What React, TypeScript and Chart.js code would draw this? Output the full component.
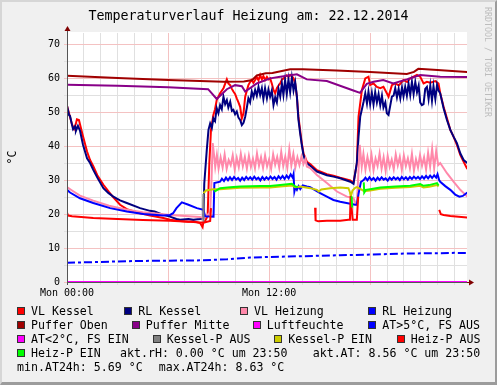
import React, { useEffect, useRef } from 'react';
import { Chart, registerables } from 'chart.js';
Chart.register(...registerables);

type P = [number, number | null];

// time in hours since Mon 00:00, value in °C
const vlKessel: P[] = [
  [0, 52.0], [0.12, 49.8], [0.3, 46.5], [0.42, 45.2], [0.53, 46.8], [0.59, 48.0], [0.71, 47.8], [0.8, 46.0],
  [0.95, 43.0], [1.19, 38.5], [1.37, 36.0], [1.56, 34.2], [1.8, 31.5], [2.16, 28.7], [2.5, 26.5], [2.75, 25.0],
  [3.15, 22.8], [3.55, 21.5], [4.34, 20.3], [4.93, 19.6], [5.72, 18.9], [6.12, 18.4], [6.71, 18.0], [7.21, 17.8],
  [7.5, 17.9], [7.9, 17.4], [8.05, 16.2], [8.1, 17.8], [8.2, 18.0], [8.35, 19.5], [8.45, 35.0], [8.55, 45.0],
  [8.69, 49.3], [8.79, 51.0], [8.89, 53.7], [9.09, 55.7], [9.29, 57.2], [9.49, 59.8], [9.58, 58.6], [9.69, 58.1],
  [9.79, 57.0], [9.88, 56.2], [9.98, 55.5], [10.08, 54.2], [10.18, 53.0], [10.28, 51.7], [10.38, 48.3], [10.48, 49.8],
  [10.58, 54.7], [10.68, 56.5], [10.77, 58.1], [10.87, 59.0], [10.97, 59.6], [11.07, 58.8], [11.17, 59.6], [11.27, 60.5],
  [11.37, 59.5], [11.47, 61.1], [11.57, 59.8], [11.66, 60.8], [11.76, 59.6], [11.87, 60.5], [11.96, 59.8], [12.06, 60.1],
  [12.16, 58.6], [12.26, 56.7], [12.36, 55.7], [12.46, 57.2], [12.56, 58.0], [12.66, 58.6], [12.76, 59.8], [12.85, 60.0],
  [12.95, 60.6], [13.05, 61.0], [13.15, 60.5], [13.25, 61.1], [13.35, 60.7], [13.45, 60.1], [13.55, 58.6], [13.65, 54.7],
  [13.74, 48.8], [13.84, 44.9], [13.94, 41.0], [14.04, 38.0], [14.24, 35.5], [14.44, 34.8], [14.84, 33.0], [15.43, 31.8],
  [15.82, 31.4], [16.22, 30.8], [16.82, 30.0], [17.01, 29.3], [17.21, 35.0], [17.31, 48.8], [17.51, 56.7], [17.71, 60.1],
  [17.9, 60.6], [18.0, 58.1], [18.2, 58.6], [18.4, 57.6], [18.6, 57.2], [18.79, 57.6], [18.99, 55.7], [19.09, 54.7],
  [19.29, 58.1], [19.49, 58.6], [19.7, 58.0], [19.98, 59.6], [20.2, 59.0], [20.38, 60.1], [20.58, 60.6], [20.78, 61.1],
  [20.97, 60.6], [21.17, 58.6], [21.37, 59.1], [21.57, 58.8], [21.87, 59.3], [22.06, 58.6], [22.16, 55.7], [22.36, 51.7],
  [22.56, 48.3], [22.76, 44.9], [22.95, 42.9], [23.15, 40.5], [23.35, 37.5], [23.55, 35.5], [23.77, 33.3],
];

const rlKessel: P[] = [
  [0, 52.0], [0.12, 49.3], [0.18, 49.0], [0.3, 46.3], [0.36, 45.1], [0.48, 45.9], [0.53, 44.6], [0.65, 46.1],
  [0.77, 44.7], [0.95, 40.5], [1.19, 36.5], [1.37, 35.1], [1.56, 33.1], [1.8, 30.8], [2.16, 27.7], [2.45, 26.3],
  [2.75, 25.2], [3.15, 24.1], [3.55, 23.3], [4.34, 21.8], [4.93, 21.0], [5.2, 20.8], [5.72, 19.8], [6.12, 19.3],
  [6.5, 18.6], [6.71, 18.4], [7.21, 18.6], [7.5, 18.4], [7.9, 18.6], [8.1, 18.9], [8.15, 29.0], [8.3, 39.0],
  [8.4, 44.9], [8.5, 46.8], [8.6, 45.5], [8.69, 48.3], [8.79, 47.5], [8.89, 51.3], [8.99, 49.8], [9.09, 52.2],
  [9.19, 51.0], [9.29, 54.7], [9.39, 52.5], [9.49, 53.7], [9.58, 51.5], [9.69, 53.2], [9.79, 50.5], [9.88, 50.8],
  [9.98, 49.5], [10.08, 50.3], [10.18, 48.5], [10.28, 47.8], [10.38, 46.3], [10.48, 47.0], [10.58, 48.8], [10.68, 51.5],
  [10.77, 54.2], [10.87, 53.0], [10.97, 56.2], [11.07, 54.5], [11.17, 56.7], [11.27, 55.0], [11.37, 57.6], [11.47, 55.2],
  [11.57, 57.2], [11.66, 54.0], [11.76, 57.2], [11.87, 54.2], [11.96, 56.8], [12.06, 54.7], [12.16, 56.5], [12.26, 52.2],
  [12.36, 54.5], [12.46, 53.0], [12.56, 57.0], [12.66, 54.7], [12.76, 58.6], [12.85, 55.2], [12.95, 59.6], [13.05, 55.5],
  [13.15, 59.8], [13.25, 56.0], [13.35, 60.3], [13.45, 56.5], [13.55, 59.0], [13.65, 54.7], [13.74, 48.0], [13.84, 44.0],
  [13.94, 40.5], [14.04, 37.5], [14.14, 35.8], [14.24, 35.1], [14.44, 34.3], [14.84, 32.6], [15.43, 31.5], [15.82, 31.1],
  [16.22, 30.6], [16.82, 29.6], [17.01, 29.0], [17.21, 35.1], [17.31, 42.9], [17.41, 48.8], [17.51, 51.0], [17.61, 53.2],
  [17.71, 55.7], [17.81, 52.7], [17.9, 56.2], [18.0, 52.5], [18.1, 55.8], [18.2, 52.4], [18.3, 56.0], [18.4, 53.0],
  [18.5, 55.5], [18.6, 52.2], [18.7, 55.0], [18.79, 51.5], [18.9, 53.0], [18.99, 49.8], [19.09, 49.3], [19.19, 52.0],
  [19.29, 54.7], [19.39, 55.0], [19.49, 57.2], [19.59, 54.5], [19.69, 57.0], [19.79, 54.2], [19.89, 57.4], [19.98, 54.8],
  [20.08, 57.6], [20.18, 55.0], [20.28, 58.5], [20.38, 55.2], [20.48, 59.1], [20.58, 55.5], [20.68, 59.0], [20.78, 56.0],
  [20.88, 58.0], [20.97, 53.0], [21.07, 52.2], [21.17, 52.5], [21.27, 57.0], [21.37, 57.6], [21.47, 54.0], [21.57, 58.0],
  [21.67, 53.5], [21.76, 57.8], [21.87, 54.0], [21.97, 58.2], [22.06, 56.5], [22.16, 55.7], [22.36, 51.3], [22.56, 47.8],
  [22.76, 44.9], [22.95, 42.9], [23.15, 41.0], [23.35, 38.0], [23.55, 36.0], [23.77, 35.1],
];

const vlHeizung: P[] = [
  [0, 28.0], [0.3, 27.0], [0.77, 25.5], [1.56, 24.0], [2.5, 22.5], [3.55, 21.3], [4.5, 20.6], [5.72, 20.0],
  [6.12, 19.8], [7.0, 19.5], [7.9, 19.2], [8.1, 18.9], [8.3, 19.6], [8.5, 20.5], [8.58, 30.0], [8.65, 41.0],
  [8.72, 38.0], [8.8, 34.0], [8.9, 37.5], [9.0, 33.5], [9.12, 36.8], [9.24, 33.8], [9.36, 37.6], [9.48, 33.4],
  [9.6, 36.0], [9.72, 34.5], [9.84, 37.4], [9.96, 33.2], [10.08, 36.6], [10.2, 33.9], [10.32, 37.8], [10.44, 34.2],
  [10.56, 36.9], [10.68, 33.5], [10.8, 37.2], [10.92, 34.0], [11.04, 36.4], [11.16, 33.6], [11.28, 37.9], [11.4, 34.3],
  [11.52, 36.8], [11.64, 33.7], [11.76, 37.3], [11.88, 34.1], [12.0, 36.2], [12.12, 33.4], [12.24, 37.7], [12.36, 34.6],
  [12.48, 36.9], [12.6, 33.8], [12.72, 38.4], [12.84, 34.2], [12.96, 37.0], [13.08, 33.6], [13.2, 39.2], [13.32, 34.4],
  [13.44, 37.8], [13.56, 33.9], [13.68, 36.8], [13.8, 34.5], [13.92, 37.0], [14.04, 34.8], [14.16, 36.4], [14.24, 34.1],
  [14.44, 33.6], [14.84, 31.6], [15.43, 29.2], [16.03, 26.7], [16.62, 25.2], [17.01, 24.7], [17.11, 23.5], [17.21, 22.8],
  [17.28, 30.0], [17.38, 40.5], [17.5, 34.0], [17.6, 37.8], [17.72, 33.2], [17.84, 36.9], [17.96, 33.8], [18.08, 37.5],
  [18.2, 33.0], [18.32, 36.4], [18.44, 34.2], [18.56, 37.9], [18.68, 33.5], [18.8, 36.8], [18.92, 32.8], [19.04, 37.2],
  [19.16, 34.0], [19.28, 36.1], [19.4, 33.3], [19.52, 37.6], [19.64, 34.4], [19.76, 36.9], [19.88, 33.1], [20.0, 37.3],
  [20.12, 34.2], [20.24, 36.5], [20.36, 33.6], [20.48, 37.8], [20.6, 32.9], [20.72, 36.2], [20.84, 33.8], [20.96, 37.4],
  [21.08, 34.3], [21.2, 36.8], [21.32, 33.2], [21.44, 38.1], [21.56, 34.0], [21.68, 39.3], [21.8, 33.6], [21.92, 38.6],
  [22.04, 34.5], [22.16, 35.1], [22.56, 32.1], [22.95, 29.6], [23.35, 27.2], [23.77, 25.2],
];

const rlHeizung: P[] = [
  [0, 27.2], [0.18, 26.4], [0.77, 24.7], [1.56, 23.3], [2.56, 21.8], [3.55, 20.8], [4.54, 20.1], [5.72, 19.6],
  [6.12, 19.8], [6.3, 20.3], [6.5, 21.8], [6.82, 23.5], [7.21, 22.8], [7.71, 21.8], [8.1, 21.3], [8.2, 19.4],
  [8.7, 19.3], [8.75, 29.2], [9.09, 29.6], [9.2, 30.5], [9.32, 29.8], [9.44, 30.8], [9.56, 30.0], [9.68, 30.9],
  [9.8, 30.1], [9.92, 31.0], [10.04, 30.2], [10.16, 30.7], [10.28, 29.9], [10.4, 30.8], [10.52, 30.1], [10.64, 31.0],
  [10.76, 30.3], [10.88, 30.9], [11.0, 30.2], [11.12, 31.1], [11.24, 30.3], [11.36, 30.8], [11.48, 30.0], [11.6, 31.0],
  [11.72, 30.2], [11.84, 30.9], [11.96, 30.3], [12.08, 31.1], [12.2, 30.4], [12.32, 31.0], [12.44, 30.2], [12.56, 31.2],
  [12.68, 30.5], [12.8, 31.3], [12.92, 30.4], [13.04, 31.4], [13.16, 30.6], [13.28, 31.8], [13.4, 30.8], [13.45, 31.8],
  [13.5, 26.7], [13.56, 27.9], [13.65, 27.2], [13.75, 28.3], [13.85, 27.4], [14.0, 28.5], [14.24, 28.2], [14.44, 28.0],
  [14.63, 27.4], [15.03, 26.2], [15.43, 25.2], [15.82, 24.2], [16.22, 23.7], [16.82, 23.1], [17.11, 22.8], [17.21, 22.8],
  [17.31, 26.0], [17.45, 29.5], [17.61, 30.1], [17.72, 30.8], [17.84, 30.0], [17.96, 30.9], [18.08, 30.1], [18.2, 30.7],
  [18.32, 29.9], [18.44, 30.8], [18.56, 30.1], [18.68, 30.9], [18.8, 30.2], [18.92, 30.6], [19.04, 29.9], [19.16, 30.8],
  [19.28, 30.2], [19.4, 30.9], [19.52, 30.3], [19.64, 30.8], [19.76, 30.1], [19.88, 31.0], [20.0, 30.3], [20.12, 30.9],
  [20.24, 30.2], [20.36, 31.0], [20.48, 30.4], [20.6, 31.1], [20.72, 30.5], [20.84, 31.0], [20.96, 30.4], [21.08, 31.2],
  [21.2, 30.5], [21.32, 31.3], [21.44, 30.6], [21.56, 31.4], [21.68, 30.7], [21.8, 31.5], [21.92, 30.8], [22.0, 31.8],
  [22.1, 30.0], [22.16, 29.6], [22.46, 28.3], [22.76, 27.2], [23.05, 25.8], [23.3, 25.2], [23.5, 25.4], [23.77, 26.4],
];

const pufferOben: P[] = [
  [0, 60.9], [3, 60.2], [6, 59.6], [9.3, 59.1], [10.5, 59.2], [11.0, 59.6], [11.27, 61.0], [11.8, 61.6],
  [12.2, 61.7], [13.25, 62.8], [14.0, 62.8], [16.0, 62.4], [18.0, 62.0], [20.18, 61.4], [20.6, 62.0], [20.86, 62.9],
  [22.0, 62.6], [23.77, 62.0],
];

const pufferMitte: P[] = [
  [0, 58.2], [3, 57.9], [6, 57.5], [8.38, 56.9], [8.89, 54.0], [9.49, 56.9], [9.98, 58.1], [10.38, 57.8],
  [10.58, 56.2], [11.27, 58.6], [12.06, 60.1], [12.66, 60.6], [13.65, 61.3], [14.24, 59.8], [15.43, 59.3], [17.0, 56.5],
  [17.4, 55.8], [17.8, 58.5], [18.2, 59.1], [18.78, 59.6], [19.37, 58.6], [20.18, 59.8], [20.97, 61.1], [22.16, 60.6],
  [23.77, 60.5],
];

const luftfeuchte: P[] = [[0, 0], [23.77, 0]];

const atUeber5: P[] = [
  [0, 5.7], [1.0, 5.8], [2.5, 6.0], [4.0, 6.2], [6.1, 6.3], [8.1, 6.4], [9.5, 6.7], [10.87, 7.2],
  [12.06, 7.4], [13.84, 7.6], [16.22, 7.9], [18.0, 8.1], [20.0, 8.4], [22.0, 8.5], [23.0, 8.6], [23.77, 8.56],
];

const atUnter2: P[] = [[0, 0], [23.77, 0]];

const kesselPAus: P[] = [[8.08, 18.0], [8.1, 26.0]];

const kesselPEin: P[] = [
  [8.1, 26.2], [8.25, 27.0], [8.69, 27.4], [9.09, 27.4], [9.69, 27.6], [10.28, 27.8], [11.47, 27.9], [12.06, 27.9],
  [12.66, 28.2], [13.35, 28.5], [13.55, 28.0], [13.84, 28.2], [14.44, 27.7], [14.84, 27.2], [14.95, 26.7], [15.1, 27.3],
  [15.63, 27.7], [16.22, 27.9], [16.71, 27.7], [16.8, 26.5], [16.85, 25.2], [16.95, 27.0], [17.11, 27.8], [17.21, 28.0],
  [17.41, 27.5], [17.65, 26.8], [18.0, 27.0], [18.6, 27.5], [19.5, 27.8], [20.38, 28.0], [20.97, 28.4], [21.17, 27.9],
  [21.5, 28.1], [21.97, 28.6], [22.06, 28.2],
];

const heizPAus: P[] = [
  [0, 20.5], [0.06, 19.6], [0.3, 19.4], [1.56, 18.9], [3.0, 18.6], [4.5, 18.3], [6.12, 18.1], [7.5, 17.7],
  [8.1, 17.5], [8.5, 18.0], [8.55, 21.8], [8.6, null],
  [14.73, 21.9], [14.76, 18.2], [14.92, 17.9], [15.43, 18.1], [16.22, 18.1], [16.71, 18.4], [16.8, 18.4], [16.84, 25.4],
  [16.96, 18.4], [17.21, 18.4], [17.29, 25.2], [17.3, null],
  [22.1, 21.3], [22.2, 20.0], [22.36, 19.8], [22.76, 19.5], [23.77, 19.0],
];

const heizPEin: P[] = [
  [8.75, 26.7], [9.09, 27.7], [9.69, 28.0], [10.28, 28.2], [11.47, 28.3], [12.06, 28.3], [12.66, 28.6], [13.35, 29.0],
  [13.55, 28.2], [13.7, 28.0], [13.72, null],
  [16.9, 25.3], [16.93, 22.0], [16.95, null],
  [17.62, 29.4], [17.65, 26.4], [17.75, 27.2], [18.0, 27.4], [18.6, 27.9], [19.5, 28.2], [20.38, 28.4], [20.97, 28.9],
  [21.17, 28.4], [21.5, 28.6], [21.97, 29.2], [22.06, 28.5],
];

const legendLabels = [
  'VL Kessel', 'RL Kessel', 'VL Heizung', 'RL Heizung', 'Puffer Oben', 'Puffer Mitte', 'Luftfeuchte',
  'AT>5°C, FS AUS', 'AT<2°C, FS EIN', 'Kessel-P AUS', 'Kessel-P EIN', 'Heiz-P AUS', 'Heiz-P EIN',
];
const seriesData = [
  vlKessel, rlKessel, vlHeizung, rlHeizung, pufferOben, pufferMitte, luftfeuchte,
  atUeber5, atUnter2, kesselPAus, kesselPEin, heizPAus, heizPEin,
];
const seriesColors = [
  '#ff0000', '#000080', '#ff88aa', '#0000ff', '#a00000', '#880088', '#ff00ff',
  '#0000ff', '#ff00ff', '#808080', '#cccc00', '#ff0000', '#00ff00',
];

const titleText = 'Temperaturverlauf Heizung am: 22.12.2014';
const yTitle = '°C';
const xLabels: Record<number, string> = { 0: 'Mon 00:00', 12: 'Mon 12:00' };
const statsRow4 = ['akt.rH: 0.00 °C um 23:50', 'akt.AT: 8.56 °C um 23:50'];
const statsRow5 = ['min.AT24h: 5.69 °C', 'max.AT24h: 8.63 °C'];

const MONO = "'DejaVu Sans Mono', monospace";

const rrdPlugin = {
  id: 'rrdDecor',
  beforeDraw(chart: any) {
    const { ctx, chartArea: a } = chart;
    ctx.save();
    ctx.fillStyle = '#ffffff';
    ctx.fillRect(a.left, a.top - 1, a.right - a.left, a.bottom - a.top + 1);
    ctx.restore();
  },
  afterDraw(chart: any) {
    const { ctx, chartArea: a } = chart;
    ctx.save();
    ctx.strokeStyle = '#555555';
    ctx.lineWidth = 1;
    ctx.beginPath();
    ctx.moveTo(Math.round(a.left) + 0.5, a.bottom + 3);
    ctx.lineTo(Math.round(a.left) + 0.5, a.top - 3);
    ctx.stroke();
    ctx.fillStyle = '#800000';
    const x0 = Math.round(a.left) + 0.5;
    ctx.beginPath();
    ctx.moveTo(x0 - 3, a.top - 2);
    ctx.lineTo(x0 + 3, a.top - 2);
    ctx.lineTo(x0, a.top - 7);
    ctx.closePath();
    ctx.fill();
    const y0 = Math.round(a.bottom) + 0.5;
    ctx.strokeStyle = '#800000';
    ctx.beginPath();
    ctx.moveTo(a.right, y0);
    ctx.lineTo(a.right + 3, y0);
    ctx.stroke();
    ctx.beginPath();
    ctx.moveTo(a.right + 2, y0 - 3);
    ctx.lineTo(a.right + 2, y0 + 3);
    ctx.lineTo(a.right + 7, y0);
    ctx.closePath();
    ctx.fill();
    ctx.restore();
  },
};

const gridMinor = '#e0e0e0';
const gridMajor = '#f4c2c2';

export default function App() {
  const ref = useRef<HTMLCanvasElement | null>(null);
  useEffect(() => {
    if (!ref.current) return;
    const n = seriesData.length;
    const datasets = seriesData.map((d, i) => ({
      label: legendLabels[i],
      data: d.map(([x, y]) => ({ x, y })),
      borderColor: seriesColors[i],
      backgroundColor: seriesColors[i],
      borderWidth: 2,
      pointRadius: 0,
      fill: false,
      tension: 0,
      spanGaps: false,
      order: n - 1 - i,
      borderDash: i === 7 ? [8, 3, 3, 3] : [],
      xAxisID: 'x',
      yAxisID: 'y',
    }));
    const chart = new Chart(ref.current, {
      type: 'line',
      data: { datasets },
      plugins: [rrdPlugin],
      options: {
        animation: false,
        responsive: false,
        events: [],
        layout: { padding: 0 },
        plugins: {
          legend: { display: false },
          tooltip: { enabled: false },
          title: {
            display: true,
            text: titleText,
            color: '#000',
            font: { family: MONO, size: 13.3, weight: 'normal', lineHeight: 1.2 },
            padding: { top: 9, bottom: 8 },
          },
        },
        scales: {
          x: {
            type: 'linear',
            min: 0,
            max: 23.75,
            border: { display: true, color: '#555555' },
            grid: {
              color: (c: any) => (c.tick && c.tick.value % 6 === 0 ? gridMajor : gridMinor),
              tickLength: 3,
            },
            ticks: {
              stepSize: 1,
              autoSkip: false,
              maxRotation: 0,
              includeBounds: false,
              padding: 2,
              color: '#000',
              font: { family: MONO, size: 10 },
              callback: (v: any) => xLabels[v as number] ?? '',
            },
            afterFit: (s: any) => { s.height = 103; },
          },
          y: {
            type: 'linear',
            position: 'left',
            min: 0,
            max: 73.5,
            border: { display: true, color: '#555555' },
            grid: {
              color: (c: any) => (c.tick && c.tick.value % 10 === 0 ? gridMajor : gridMinor),
              tickLength: 3,
            },
            ticks: {
              stepSize: 5,
              autoSkip: false,
              includeBounds: false,
              padding: 4,
              color: '#000',
              font: { family: MONO, size: 10 },
              callback: (v: any) => ((v as number) % 10 === 0 ? String(v) : ''),
            },
            title: {
              display: true,
              text: yTitle,
              color: '#000',
              font: { family: MONO, size: 11.6 },
              padding: { top: 6, bottom: 0 },
            },
            afterFit: (s: any) => { s.width = 67; },
          },
          y2: {
            type: 'linear',
            position: 'right',
            display: true,
            grid: { display: false },
            border: { display: false },
            ticks: { display: false },
            afterFit: (s: any) => { s.width = 30; },
          },
        },
      } as any,
    });
    return () => chart.destroy();
  }, []);

  const rowY = [311, 325, 339.2, 353, 367.3];
  const legendLayout: { i: number; row: number; tx: number }[] = [
    { i: 0, row: 0, tx: 31 }, { i: 1, row: 0, tx: 138.3 }, { i: 2, row: 0, tx: 254 }, { i: 3, row: 0, tx: 382.3 },
    { i: 4, row: 1, tx: 31 }, { i: 5, row: 1, tx: 145.7 }, { i: 6, row: 1, tx: 266.7 }, { i: 7, row: 1, tx: 382.3 },
    { i: 8, row: 2, tx: 31 }, { i: 9, row: 2, tx: 166.7 }, { i: 10, row: 2, tx: 288.3 }, { i: 11, row: 2, tx: 410.7 },
    { i: 12, row: 3, tx: 31 },
  ];
  const textStyle = (x: number, yc: number): React.CSSProperties => ({
    position: 'absolute', left: x, top: yc - 7, height: 14, lineHeight: '14px',
    fontFamily: MONO, fontSize: '11.6px', color: '#000', whiteSpace: 'pre',
  });

  return (
    <div style={{ position: 'absolute', left: 0, top: 0, width: 497, height: 385, background: '#f0f0f0', overflow: 'hidden' }}>
      <canvas ref={ref} width={497} height={385} style={{ position: 'absolute', left: 0, top: 0, width: 497, height: 385 }} />
      {legendLayout.map(({ i, row, tx }) => (
        <React.Fragment key={i}>
          <div style={{
            position: 'absolute', left: tx - 14, top: rowY[row] - 4, width: 6, height: 6,
            background: seriesColors[i], border: '1px solid #333', boxSizing: 'content-box',
          }} />
          <div style={textStyle(tx, rowY[row])}>{legendLabels[i]}</div>
        </React.Fragment>
      ))}
      <div style={textStyle(120, rowY[3])}>{statsRow4[0]}</div>
      <div style={textStyle(312.7, rowY[3])}>{statsRow4[1]}</div>
      <div style={textStyle(17, rowY[4])}>{statsRow5[0]}</div>
      <div style={textStyle(158.7, rowY[4])}>{statsRow5[1]}</div>
      <div style={{
        position: 'absolute', left: 482.5, top: 7, width: 10, lineHeight: '10px', writingMode: 'vertical-rl',
        fontFamily: MONO, fontSize: '8.3px', color: '#bdbdbd', whiteSpace: 'pre',
      }}>RRDTOOL / TOBI OETIKER</div>
      <div style={{
        position: 'absolute', left: 0, top: 0, width: 497, height: 385, boxSizing: 'border-box', pointerEvents: 'none',
        borderTop: '2px solid #d6d6d6', borderLeft: '2px solid #d6d6d6',
        borderRight: '2px solid #9c9c9c', borderBottom: '3px solid #9c9c9c',
      }} />
    </div>
  );
}
